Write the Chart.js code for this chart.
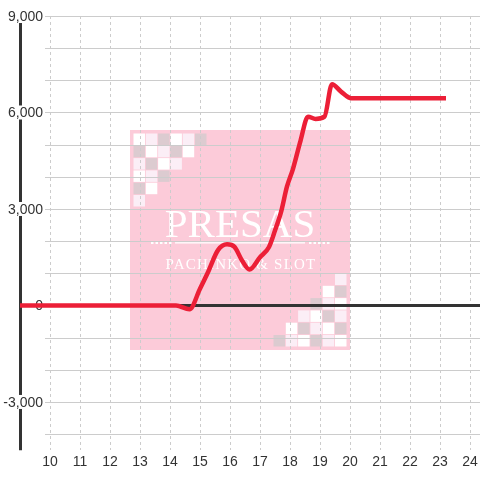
<!DOCTYPE html>
<html>
<head>
<meta charset="utf-8">
<script src="https://cdn.jsdelivr.net/npm/chart.js@4.4.1/dist/chart.umd.min.js"></script>
<style>
  html, body { margin: 0; padding: 0; background: #fff; }
  canvas { display: block; }
</style>
</head>
<body>
<canvas id="grafico" width="480" height="480"></canvas>
<script>
// horario (h) e saldo acumulado
const horas = [9, 14.2, 14.65, 15.0, 15.25, 15.6, 15.9, 16.15, 16.4, 16.65, 17.0, 17.3, 17.5, 17.7, 17.9, 18.1, 18.35, 18.6, 18.85, 19.15, 19.4, 19.7, 20.05, 23.2];
const saldo = [0, 0, -120, 520, 1000, 1720, 1900, 1820, 1400, 1120, 1500, 1820, 2330, 2900, 3700, 4250, 5120, 5870, 5800, 5870, 6880, 6650, 6440, 6440];

const ticksX = [10, 11, 12, 13, 14, 15, 16, 17, 18, 19, 20, 21, 22, 23, 24];
const ticksY = [-3000, 0, 3000, 6000, 9000];
const linhasY = [-4000, -3000, -2000, -1000, 0, 1000, 2000, 3000, 4000, 5000, 6000, 7000, 8000, 9000];

Chart.defaults.font.family = "'Liberation Sans', Arial, sans-serif";
Chart.defaults.font.size = 14;
Chart.defaults.color = '#333';

// marca d'agua, linhas horizontais, eixo y
const fundo = {
  id: 'fundo',
  beforeDraw(chart) {
    const ctx = chart.ctx;
    const area = chart.chartArea;
    const y = chart.scales.y;
    const x0 = 130, y0 = 130, lado = 220;
    ctx.save();
    ctx.fillStyle = '#fccbd9';
    ctx.fillRect(x0, y0, lado, lado);

    const cores = ['#ffffff', '#fbeef6', '#dccbd0'];
    const passo = 12.3, q = 11.5;
    for (let r = 0; r < 6; r++) {
      for (let c = 0; c < 6 - r; c++) {
        ctx.fillStyle = cores[((c - r) % 3 + 3) % 3];
        ctx.fillRect(x0 + 3.5 + c * passo, y0 + 3.5 + r * passo, q, q);
        ctx.fillRect(x0 + lado - 3.5 - q - c * passo, y0 + lado - 3.5 - q - r * passo, q, q);
      }
    }

    ctx.fillStyle = '#fff';
    ctx.textAlign = 'center';
    ctx.textBaseline = 'alphabetic';
    ctx.font = '41px "Liberation Serif", "Times New Roman", serif';
    ctx.fillText('PRESAS', 240, 237);
    ctx.font = '15px "Liberation Serif", "Times New Roman", serif';
    ctx.letterSpacing = '1.2px';
    ctx.fillText('PACHINKO & SLOT', 241, 269);
    ctx.letterSpacing = '0px';

    for (let i = 0; i < 5; i++) {
      ctx.fillRect(151 + i * 4.5, 241.5, 2.5, 2.5);
      ctx.fillRect(309 + i * 4.5, 241.5, 2.5, 2.5);
    }
    ctx.fillRect(175, 242.2, 130, 1.3);

    ctx.strokeStyle = '#cccccc';
    ctx.lineWidth = 1;
    linhasY.forEach(v => {
      const py = Math.round(y.getPixelForValue(v)) + 0.5;
      ctx.beginPath();
      ctx.moveTo(45, py);
      ctx.lineTo(area.right, py);
      ctx.stroke();
    });
    ctx.restore();
  },
  beforeDatasetsDraw(chart) {
    const ctx = chart.ctx;
    const area = chart.chartArea;
    const y = chart.scales.y;
    ctx.save();
    ctx.strokeStyle = '#333';
    ctx.lineWidth = 3;
    ctx.beginPath();
    ctx.moveTo(area.left, y.getPixelForValue(0));
    ctx.lineTo(area.right, y.getPixelForValue(0));
    ctx.moveTo(area.left + 0.5, area.top);
    ctx.lineTo(area.left + 0.5, area.bottom);
    ctx.stroke();

    ctx.font = "14px 'Liberation Sans', Arial, sans-serif";
    ctx.textAlign = 'right';
    ctx.textBaseline = 'middle';
    ticksY.forEach(v => {
      const py = y.getPixelForValue(v);
      const txt = v.toLocaleString('en-US');
      const w = ctx.measureText(txt).width;
      ctx.fillStyle = '#fff';
      ctx.fillRect(43 - w - 1, py - 7, w + 2, 14);
      ctx.fillStyle = '#333';
      ctx.fillText(txt, 43, py + 1);
    });
    ctx.restore();
  }
};

new Chart(document.getElementById('grafico'), {
  type: 'line',
  data: {
    datasets: [{
      data: horas.map((h, i) => ({ x: h, y: saldo[i] })),
      borderColor: '#ec1f37',
      borderWidth: 4.5,
      pointRadius: 0,
      cubicInterpolationMode: 'monotone',
      fill: false
    }]
  },
  options: {
    responsive: false,
    animation: false,
    layout: { padding: { left: 20, top: 16, right: 0, bottom: 5 } },
    plugins: { legend: { display: false }, tooltip: { enabled: false } },
    scales: {
      x: {
        type: 'linear',
        min: 9,
        max: 24.333,
        afterBuildTicks: s => { s.ticks = ticksX.map(v => ({ value: v })); },
        afterFit: s => { s.paddingLeft = 0; s.paddingRight = 0; },
        ticks: { padding: 4, maxRotation: 0, autoSkip: false },
        grid: { color: '#cccccc', drawTicks: false },
        border: { display: false, dash: [3, 3] }
      },
      y: {
        display: false,
        min: -4500,
        max: 9000
      }
    }
  },
  plugins: [fundo]
});
</script>
</body>
</html>
